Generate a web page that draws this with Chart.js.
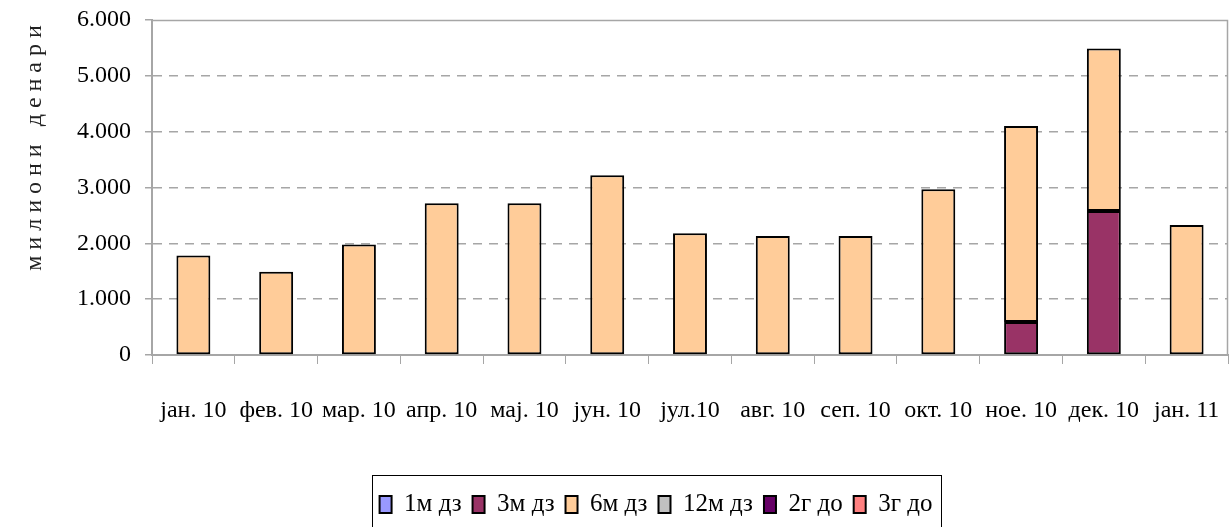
<!DOCTYPE html>
<html lang="mk">
<head>
  <meta charset="UTF-8" />
  <title>Депозити по рочност</title>
  <script src="https://cdn.jsdelivr.net/npm/chart.js"></script>
  <style>
    html, body { margin: 0; padding: 0; background: #fff; }
    #wrap { width: 1231px; height: 527px; }
  </style>
</head>
<body>
  <div id="wrap"><canvas id="chart" width="1231" height="527"></canvas></div>

  <script>
    // Data (милиони денари)
    const months = ["јан. 10", "фев. 10", "мар. 10", "апр. 10", "мај. 10", "јун. 10",
                    "јул.10", "авг. 10", "сеп. 10", "окт. 10", "ное. 10", "дек. 10", "јан. 11"];
    const m1 = [0, 0, 0, 0, 0, 0, 0, 0, 0, 0, 0, 0, 0];
    const m3 = [0, 0, 0, 0, 0, 0, 0, 0, 0, 0, 590, 2580, 0];
    const m6 = [1780, 1490, 1980, 2720, 2720, 3220, 2180, 2130, 2130, 2970, 3510, 2910, 2330];
    const m12 = [0, 0, 0, 0, 0, 0, 0, 0, 0, 0, 0, 0, 0];
    const y2 = [0, 0, 0, 0, 0, 0, 0, 0, 0, 0, 0, 0, 0];
    const y3 = [0, 0, 0, 0, 0, 0, 0, 0, 0, 0, 0, 0, 0];
    const yTicks = [0, 1000, 2000, 3000, 4000, 5000, 6000];

    const FONT = "'Liberation Serif', serif";
    const fmt = v => v === 0 ? "0" : (v / 1000).toFixed(3);

    function series(label, data, color) {
      return {
        label, data,
        backgroundColor: color,
        borderColor: "#000",
        borderWidth: 2,
        borderSkipped: false,
        categoryPercentage: 1,
        barPercentage: 0.41
      };
    }

    // frame around plot, y title, box around legend
    const extras = {
      id: "extras",
      afterLayout(chart) {
        // legend sits a bit right of the canvas centre in the original
        const lg = chart.legend;
        lg.left += 42;
        lg.right += 42;
        lg.adjustHitBoxes();
      },
      afterDraw(chart) {
        const { ctx, chartArea: a } = chart;
        ctx.save();
        ctx.strokeStyle = "#a6a6a6";
        ctx.lineWidth = 1.5;
        ctx.beginPath();
        ctx.moveTo(a.left, a.top + 0.5);
        ctx.lineTo(a.right - 0.5, a.top + 0.5);
        ctx.lineTo(a.right - 0.5, a.bottom);
        ctx.stroke();

        ctx.fillStyle = "#222";
        ctx.font = "24px " + FONT;
        ctx.letterSpacing = "6px";
        ctx.translate(35, 145);
        ctx.rotate(-Math.PI / 2);
        ctx.textAlign = "center";
        ctx.textBaseline = "middle";
        ctx.fillText("милиони денари", 0, 0);
        ctx.restore();

        const lg = chart.legend;
        const boxes = lg.legendHitBoxes;
        if (boxes && boxes.length) {
          const l = Math.min(...boxes.map(b => b.left));
          const r = Math.max(...boxes.map(b => b.left + b.width));
          ctx.save();
          ctx.strokeStyle = "#000";
          ctx.lineWidth = 1;
          ctx.strokeRect(Math.round(l) - 7.5, Math.round(lg.top) - 5.5, Math.round(r - l) + 16, 80);
          ctx.restore();
        }
      }
    };

    new Chart(document.getElementById("chart"), {
      type: "bar",
      data: {
        labels: months,
        datasets: [
          series("1м дз", m1, "#9999ff"),
          series("3м дз", m3, "#993366"),
          series("6м дз", m6, "#ffcc99"),
          series("12м дз", m12, "#c0c0c0"),
          series("2г до", y2, "#660066"),
          series("3г до", y3, "#ff8080")
        ]
      },
      options: {
        responsive: false,
        animation: false,
        layout: { padding: { top: 20, right: 3, left: 0, bottom: 0 } },
        plugins: {
          tooltip: { enabled: false },
          legend: {
            position: "bottom",
            labels: {
              font: { family: FONT, size: 25 },
              color: "#000",
              boxWidth: 12,
              boxHeight: 17,
              padding: 11
            }
          }
        },
        scales: {
          x: {
            stacked: true,
            afterFit(s) { s.height = 126; s.paddingLeft = 0; s.paddingRight = 0; },
            grid: {
              offset: true,
              drawOnChartArea: false,
              tickLength: 9,
              tickColor: "#a6a6a6"
            },
            border: { color: "#a6a6a6", width: 2 },
            ticks: {
              font: { family: FONT, size: 24 },
              color: "#000",
              padding: 32,
              maxRotation: 0,
              autoSkip: false
            }
          },
          y: {
            stacked: true,
            min: 0,
            max: 6000,
            afterFit(s) { s.width = 152; s.paddingTop = 0; s.paddingBottom = 0; },
            afterBuildTicks(s) { s.ticks = yTicks.map(v => ({ value: v })); },
            grid: {
              color: ctx => (ctx.tick && (ctx.tick.value === 0 || ctx.tick.value === 6000)) ? "rgba(0,0,0,0)" : "#a6a6a6",
              tickColor: "#a6a6a6",
              tickBorderDash: [],
              tickLength: 7,
              lineWidth: 1.5
            },
            border: { color: "#a6a6a6", width: 2, dash: [9, 7] },
            ticks: {
              font: { family: FONT, size: 24 },
              color: "#000",
              padding: 14,
              callback: v => fmt(v)
            }
          }
        }
      },
      plugins: [extras]
    });
  </script>
</body>
</html>
